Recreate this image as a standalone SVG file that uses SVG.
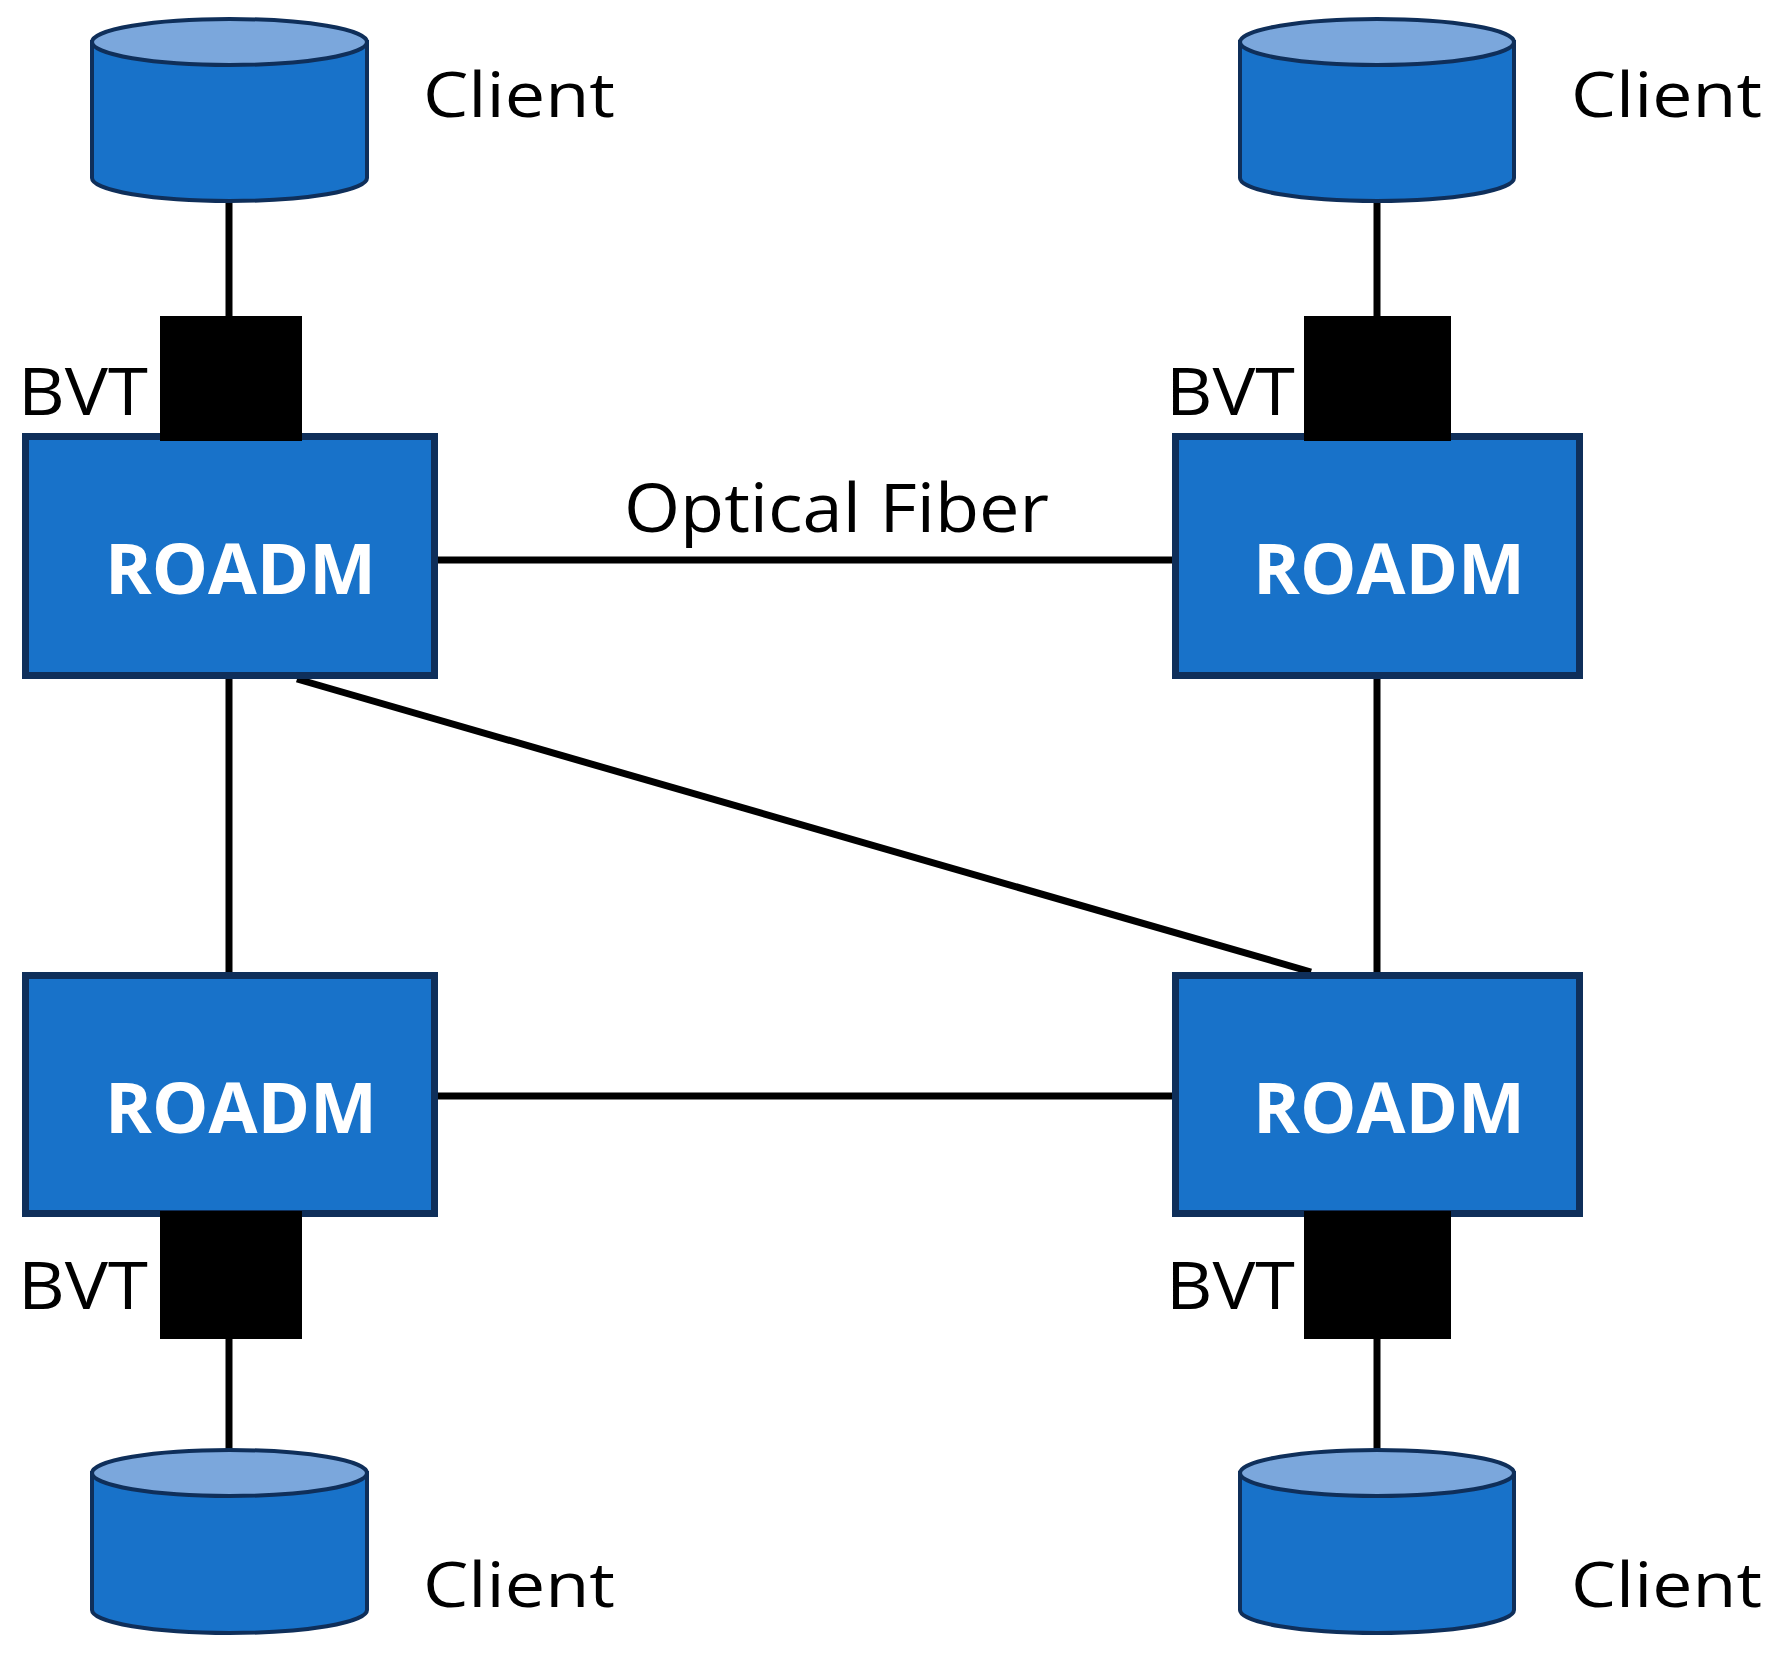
<svg xmlns="http://www.w3.org/2000/svg" width="1787" height="1668" viewBox="0 0 1787 1668">
<style>
.bg{fill:#ffffff}
.roadm{fill:#1872C9;stroke:#0F2F5A;stroke-width:7}
.bvt{fill:#000000}
.cylside{fill:#1872C9;stroke:#0F2F5A;stroke-width:4}
.cyltop{fill:#7BA7DC;stroke:#0F2F5A;stroke-width:4}
.conn{stroke:#000000;stroke-width:7;fill:none}
.lbl{font-family:"Open Sans","Liberation Sans",sans-serif;fill:#000000}
.rt{font-family:"Open Sans","Liberation Sans",sans-serif;font-weight:bold;fill:#ffffff;font-size:70px}
</style>
<rect class="bg" x="0" y="0" width="1787" height="1668"/>
<g id="connectors">
<line class="conn" x1="229" y1="195" x2="229" y2="318"/>
<line class="conn" x1="1377" y1="195" x2="1377" y2="318"/>
<line class="conn" x1="229" y1="1337" x2="229" y2="1455"/>
<line class="conn" x1="1377" y1="1337" x2="1377" y2="1455"/>
<line class="conn" x1="438" y1="560" x2="1172" y2="560"/>
<line class="conn" x1="438" y1="1096" x2="1172" y2="1096"/>
<line class="conn" x1="229" y1="679" x2="229" y2="972"/>
<line class="conn" x1="1377" y1="679" x2="1377" y2="972"/>
<line class="conn" x1="297" y1="679" x2="1311" y2="972"/>
</g>
<g id="client-tl">
<path class="cylside" d="M92,42 L92,178 A137.5,23 0 0 0 367,178 L367,42 Z"/>
<ellipse class="cyltop" cx="229.5" cy="42" rx="137.5" ry="23"/>
<text class="lbl" x="423" y="117" font-size="63" textLength="192" lengthAdjust="spacingAndGlyphs">Client</text>
</g>
<g id="client-tr">
<path class="cylside" d="M1240,42 L1240,178 A137,23 0 0 0 1514,178 L1514,42 Z"/>
<ellipse class="cyltop" cx="1377" cy="42" rx="137" ry="23"/>
<text class="lbl" x="1571" y="117" font-size="63" textLength="191" lengthAdjust="spacingAndGlyphs">Client</text>
</g>
<g id="client-bl">
<path class="cylside" d="M92,1473 L92,1610 A137.5,23 0 0 0 367,1610 L367,1473 Z"/>
<ellipse class="cyltop" cx="229.5" cy="1473" rx="137.5" ry="23"/>
<text class="lbl" x="423" y="1607" font-size="63" textLength="192" lengthAdjust="spacingAndGlyphs">Client</text>
</g>
<g id="client-br">
<path class="cylside" d="M1240,1473 L1240,1610 A137,23 0 0 0 1514,1610 L1514,1473 Z"/>
<ellipse class="cyltop" cx="1377" cy="1473" rx="137" ry="23"/>
<text class="lbl" x="1571" y="1607" font-size="63" textLength="191" lengthAdjust="spacingAndGlyphs">Client</text>
</g>
<g id="roadm-tl">
<rect class="roadm" x="25.5" y="436.5" width="409" height="239"/>
<text class="rt" x="105" y="594" textLength="271" lengthAdjust="spacingAndGlyphs">ROADM</text>
</g>
<g id="roadm-tr">
<rect class="roadm" x="1175.5" y="436.5" width="404" height="239"/>
<text class="rt" x="1253" y="594" textLength="272" lengthAdjust="spacingAndGlyphs">ROADM</text>
</g>
<g id="roadm-bl">
<rect class="roadm" x="25.5" y="975.5" width="409" height="238"/>
<text class="rt" x="105" y="1133" textLength="272" lengthAdjust="spacingAndGlyphs">ROADM</text>
</g>
<g id="roadm-br">
<rect class="roadm" x="1175.5" y="975.5" width="404" height="238"/>
<text class="rt" x="1253" y="1133" textLength="272" lengthAdjust="spacingAndGlyphs">ROADM</text>
</g>
<g id="bvt-tl">
<rect class="bvt" x="160" y="316" width="142" height="125"/>
<text class="lbl" x="18" y="415" font-size="66" textLength="130" lengthAdjust="spacingAndGlyphs">BVT</text>
</g>
<g id="bvt-tr">
<rect class="bvt" x="1304" y="316" width="147" height="125"/>
<text class="lbl" x="1166" y="415" font-size="66" textLength="129" lengthAdjust="spacingAndGlyphs">BVT</text>
</g>
<g id="bvt-bl">
<rect class="bvt" x="160" y="1211" width="142" height="128"/>
<text class="lbl" x="18" y="1309" font-size="66" textLength="130" lengthAdjust="spacingAndGlyphs">BVT</text>
</g>
<g id="bvt-br">
<rect class="bvt" x="1304" y="1211" width="147" height="128"/>
<text class="lbl" x="1166" y="1309" font-size="66" textLength="129" lengthAdjust="spacingAndGlyphs">BVT</text>
</g>
<g id="label-fiber">
<text class="lbl" x="624" y="532" font-size="67" textLength="425" lengthAdjust="spacingAndGlyphs">Optical Fiber</text>
</g>
</svg>
